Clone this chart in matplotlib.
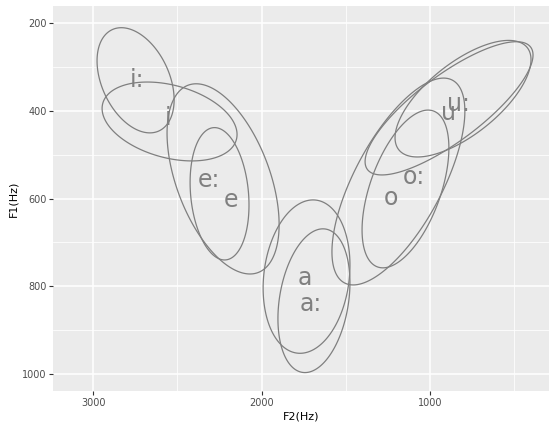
import numpy as np
import matplotlib
matplotlib.use("Agg")
import matplotlib.pyplot as plt
from matplotlib.patches import Polygon
from matplotlib.ticker import MultipleLocator

# Ellipses (F2 centre, F1 centre, F2 half-range, F1 half-range, correlation)
vowels = ["i:", "i", "e", "e:", "a", "a:", "o", "o:", "u", "u:"]
ell_f2 = [2749, 2547, 2229, 2250, 1733, 1689, 1187, 1145, 803, 886]
ell_f1 = [330, 424, 555, 589, 778, 833, 561, 578, 372, 394]
ell_w = [229, 401, 333, 175, 258, 214, 395, 258, 404, 499]
ell_h = [120, 90, 217, 151, 175, 164, 236, 180, 133, 152]
ell_rho = [-0.37, -0.33, -0.48, -0.17, 0.15, 0.25, 0.68, 0.52, 0.67, 0.8]

# Vowel label positions
lab_f2 = [2740, 2556, 2182, 2313, 1742, 1706, 1231, 1094, 892, 833]
lab_f1 = [329, 416, 603, 557, 781, 840, 598, 551, 405, 384]

fig = plt.figure(figsize=(5.49, 4.26), dpi=100)
ax = fig.add_axes([0.0971, 0.0822, 0.9029, 0.9037])
ax.set_facecolor("#EBEBEB")

t = np.linspace(0, 2 * np.pi, 300, endpoint=False)
for cx, cy, w, h, r in zip(ell_f2, ell_f1, ell_w, ell_h, ell_rho):
    x = cx + w * np.cos(t)
    y = cy + h * (r * np.cos(t) + np.sqrt(1 - r * r) * np.sin(t))
    ax.add_patch(Polygon(np.column_stack([x, y]), closed=True, fill=False,
                         edgecolor="#7f7f7f", lw=0.9))

for v, x, y in zip(vowels, lab_f2, lab_f1):
    ax.text(x, y, v, color="#808080", fontsize=17, ha="center", va="center")

ax.set_xlim(3238, 292)
ax.set_ylim(1039, 160.5)
ax.xaxis.set_major_locator(MultipleLocator(1000))
ax.xaxis.set_minor_locator(MultipleLocator(500))
ax.yaxis.set_major_locator(MultipleLocator(200))
ax.yaxis.set_minor_locator(MultipleLocator(100))
ax.grid(which="major", color="white", lw=1.1)
ax.grid(which="minor", color="white", lw=0.55)
ax.set_axisbelow(True)
for s in ax.spines.values():
    s.set_visible(False)
ax.tick_params(which="major", length=2.7, width=0.8, color="#333333",
               labelsize=7, labelcolor="#4d4d4d", pad=2)
ax.tick_params(which="minor", length=0)

ax.set_xlabel("F2(Hz)", fontsize=8, labelpad=3)
ax.set_ylabel("F1(Hz)", fontsize=8, labelpad=3)

fig.savefig("out.png", dpi=100)
